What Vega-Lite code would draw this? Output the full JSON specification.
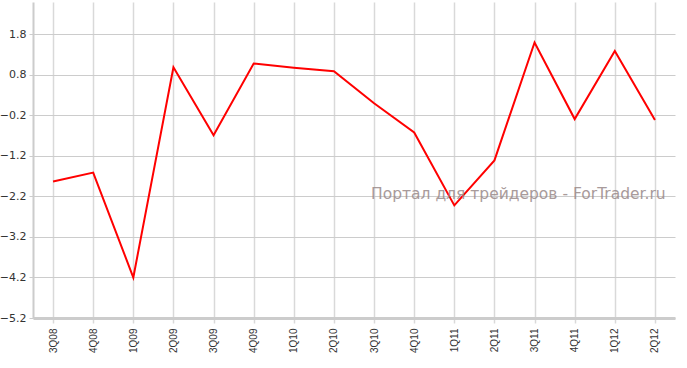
{
  "$schema": "https://vega.github.io/schema/vega-lite/v6.json",
  "width": 642,
  "height": 316,
  "autosize": {"type": "none"},
  "padding": {"left": 33, "top": 2, "right": 12, "bottom": 50},
  "background": "#ffffff",
  "config": {"view": {"stroke": null}},
  "datasets": {
    "series": [
      {"q": "3Q08", "v": -1.83},
      {"q": "4Q08", "v": -1.61},
      {"q": "1Q09", "v": -4.2},
      {"q": "2Q09", "v": 0.99},
      {"q": "3Q09", "v": -0.69},
      {"q": "4Q09", "v": 1.08},
      {"q": "1Q10", "v": 0.98},
      {"q": "2Q10", "v": 0.89},
      {"q": "3Q10", "v": 0.1},
      {"q": "4Q10", "v": -0.62},
      {"q": "1Q11", "v": -2.42},
      {"q": "2Q11", "v": -1.31},
      {"q": "3Q11", "v": 1.6},
      {"q": "4Q11", "v": -0.29},
      {"q": "1Q12", "v": 1.39},
      {"q": "2Q12", "v": -0.31}
    ],
    "mark": [
      {"q": "3Q10", "v": -2.15, "label": "Портал для трейдеров - ForTrader.ru"}
    ]
  },
  "layer": [
    {
      "data": {"name": "series"},
      "mark": {"type": "line", "color": "#ff0000", "strokeWidth": 2},
      "encoding": {
        "x": {
          "field": "q", "type": "ordinal", "sort": null,
          "scale": {"type": "point", "padding": 0.5},
          "axis": {
            "title": null, "labelAngle": -90, "labelFont": "Liberation Sans", "labelFontSize": 10,
            "labelColor": "#333333", "labelPadding": 5,
            "grid": true, "gridColor": "#d9d9d9", "gridWidth": 1.5,
            "domainColor": "#cccccc", "domainWidth": 3,
            "tickColor": "#d9d9d9", "tickSize": 5, "tickWidth": 1.5
          }
        },
        "y": {
          "field": "v", "type": "quantitative",
          "scale": {"domain": [-5.2, 2.6], "nice": false, "zero": false},
          "axis": {
            "title": null, "values": [-5.2, -4.2, -3.2, -2.2, -1.2, -0.2, 0.8, 1.8],
            "format": ".1f", "labelFont": "DejaVu Sans", "labelFontSize": 11, "labelColor": "#333333",
            "labelPadding": 3,
            "grid": true, "gridColor": "#cccccc", "gridWidth": 1,
            "domainColor": "#cccccc", "domainWidth": 2,
            "tickColor": "#cccccc", "tickSize": 4
          }
        }
      }
    },
    {
      "data": {"name": "mark"},
      "mark": {"type": "text", "align": "left", "baseline": "middle", "dx": -3, "font": "DejaVu Sans", "fontSize": 15.5, "color": "#9a8a8a", "opacity": 0.85},
      "encoding": {
        "x": {"field": "q", "type": "ordinal", "sort": null},
        "y": {"field": "v", "type": "quantitative"},
        "text": {"field": "label"}
      }
    }
  ]
}
